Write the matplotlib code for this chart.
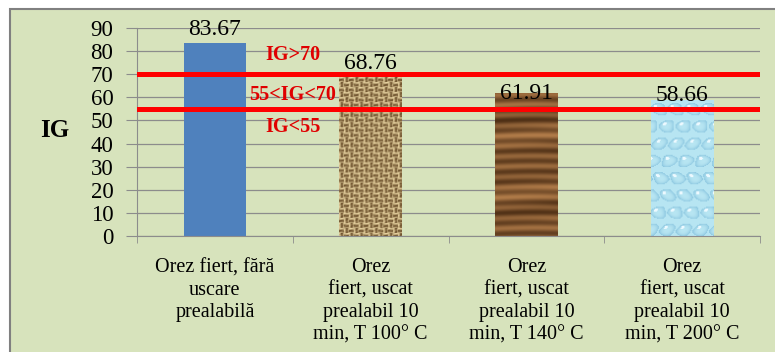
import numpy as np
import matplotlib
matplotlib.use('Agg')
import matplotlib.pyplot as plt
from matplotlib.patches import Rectangle

categories = ['Orez fiert, fără\nuscare\nprealabilă',
              'Orez\nfiert, uscat\nprealabil 10\nmin, T 100° C',
              'Orez\nfiert, uscat\nprealabil 10\nmin, T 140° C',
              'Orez\nfiert, uscat\nprealabil 10\nmin, T 200° C']
ig_values = [83.67, 68.76, 61.91, 58.66]
label_offsets = [2, 2, -8, -4]   # points above the bar top for the value labels
thresholds = [70, 55]
zone_labels = ['IG>70', '55<IG<70', 'IG<55']
zone_y = [78.3, 61.0, 47.2]

plt.rcParams['font.family'] = ['Liberation Serif', 'DejaVu Serif']
bg = '#d7e3bc'


def burlap(h, w):
    yy, xx = np.mgrid[0:h, 0:w]
    cell = 5
    weave = ((yy // cell) + (xx // cell)) % 2
    tv = 0.5 + 0.5 * np.cos(2 * np.pi * xx / cell)
    th = 0.5 + 0.5 * np.cos(2 * np.pi * yy / cell)
    v = np.where(weave == 1, tv, th)
    v = 0.75 * v + 0.25 * (0.5 + 0.5 * np.sin(xx * 0.9 + yy * 1.7) * np.sin(yy * 0.23 + xx * 0.4))
    dark = np.array([0.40, 0.29, 0.15])
    light = np.array([0.92, 0.84, 0.64])
    return dark + v[..., None] * (light - dark)


def wood(h, w):
    yy, xx = np.mgrid[0:h, 0:w]
    v = (0.5 + 0.28 * np.sin(yy * 0.62 + 0.6 * np.sin(xx * 0.04))
         + 0.22 * np.sin(yy * 0.17 + xx * 0.015) * np.sin(yy * 0.045))
    v = np.clip(v, 0, 1)
    dark = np.array([0.30, 0.18, 0.08])
    light = np.array([0.70, 0.49, 0.29])
    return dark + v[..., None] * (light - dark)


def water(h, w):
    yy, xx = np.mgrid[0:h, 0:w].astype(float)
    sp = 17.0
    row = np.floor(yy / sp)
    xs = xx + (row % 2) * sp / 2 + 2 * np.sin(yy * 0.3)
    dx = (xs % sp) - sp / 2
    dy = (yy % sp) - sp / 2
    r = np.hypot(dx * 0.9, dy * 1.1) / 7.0
    img = np.ones((h, w, 3)) * np.array([0.72, 0.90, 0.95])
    inside = r < 1
    edge = np.array([0.55, 0.78, 0.88])
    mix = np.clip(r, 0, 1)[..., None] ** 3
    drop = img * (1 - mix) + edge * mix
    img = np.where(inside[..., None], drop, img)
    hl = np.hypot(dx + 2.5, dy + 2.5) < 1.8
    img[hl] = [0.93, 0.98, 1.0]
    return img


textures = [None, burlap, wood, water]

fig = plt.figure(figsize=(7.75, 3.52), dpi=100)
fig.patch.set_facecolor('white')
fig.patches.append(Rectangle((10 / 775, -0.1), 1.1, 1 - 9 / 352 + 0.1,
                             transform=fig.transFigure, facecolor=bg,
                             edgecolor='#808080', linewidth=1.5, zorder=-10))

ax = fig.add_axes([137 / 775, 1 - 236 / 352, (760 - 137) / 775, (236 - 28) / 352])
ax.set_facecolor('none')
x = np.arange(len(categories))
bars = ax.bar(x, ig_values, width=0.4, color='#4f81bd', zorder=2)

for bar, tex in zip(bars, textures):
    if tex is None:
        continue
    x0, w, h = bar.get_x(), bar.get_width(), bar.get_height()
    img = tex(int(h * 2.3), 64)
    im = ax.imshow(img, extent=(x0, x0 + w, 0, h), aspect='auto',
                   interpolation='bilinear', zorder=2)
    im.set_clip_path(bar)
    bar.set_facecolor('none')

for bar, v, off in zip(bars, ig_values, label_offsets):
    ax.annotate(f'{v:.2f}', (bar.get_x() + bar.get_width() / 2, v),
                xytext=(0, off), textcoords='offset points',
                ha='center', va='bottom', fontsize=17, zorder=5)

for t in thresholds:
    ax.axhline(t, color='#ff0000', linewidth=3.6, zorder=4)

for txt, yv in zip(zone_labels, zone_y):
    ax.text(0.50, yv, txt, color='#e00000', fontsize=14.5, fontweight='bold',
            ha='center', va='center', zorder=5)

ax.set_xlim(-0.5, len(categories) - 0.5)
ax.set_ylim(0, 90)
ax.set_yticks(np.arange(0, 91, 10))
ax.yaxis.grid(True, color='#8c8c8c', linewidth=0.9, zorder=0)
ax.set_axisbelow(True)
ax.tick_params(axis='y', labelsize=16.5, length=8, color='#8c8c8c', pad=9)

ax.set_xticks(x)
ax.set_xticklabels(categories, fontsize=14.5, linespacing=1.25)
ax.set_xticks(np.arange(-0.5, len(categories)), minor=True)
ax.tick_params(axis='x', which='major', length=0, pad=16)
ax.tick_params(axis='x', which='minor', length=5, color='#8c8c8c')

for side in ['top', 'right']:
    ax.spines[side].set_visible(False)
for side in ['left', 'bottom']:
    ax.spines[side].set_color('#8c8c8c')

fig.text(55 / 775, 1 - 130 / 352, 'IG', fontsize=18, fontweight='bold',
         ha='center', va='center')

fig.savefig('out.png', dpi=100, facecolor=fig.get_facecolor())
